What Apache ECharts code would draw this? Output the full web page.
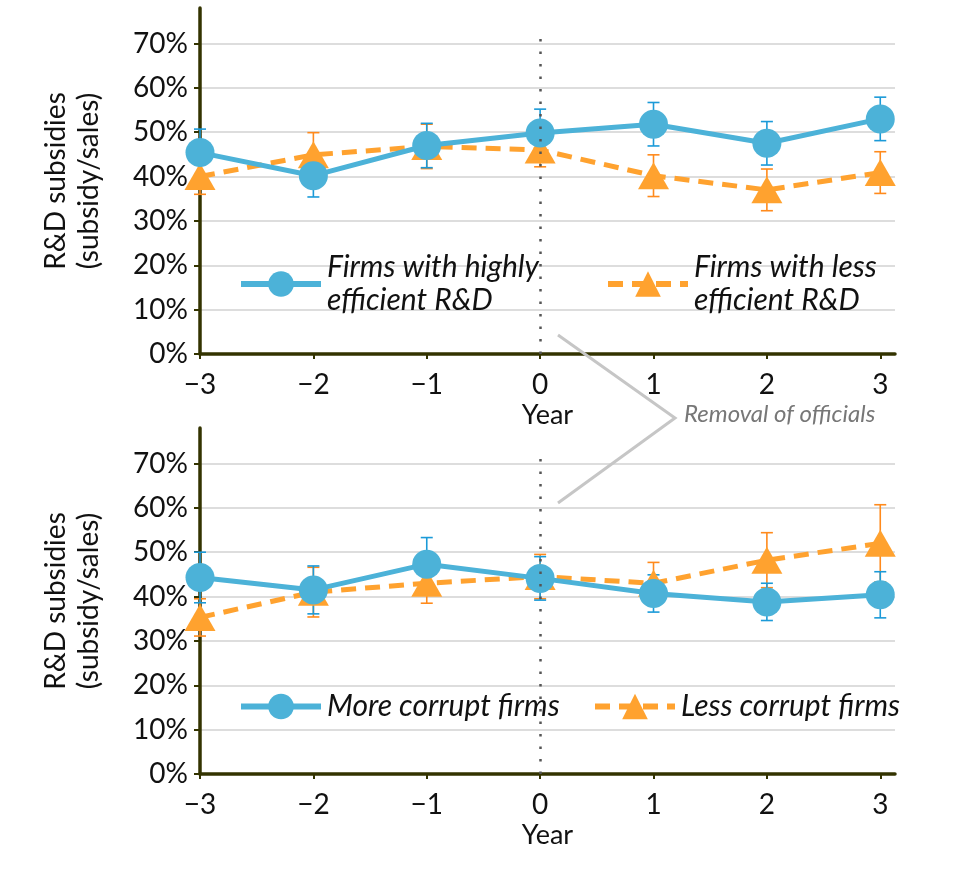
<!DOCTYPE html>
<html>
<head>
<meta charset="utf-8">
<script src="https://cdn.jsdelivr.net/npm/echarts@6/dist/echarts.min.js"></script>
<style>
  html, body { margin: 0; padding: 0; background: #fff; }
  #Chart { width: 960px; height: 885px; }
</style>
<title>R&D subsidies around removal of officials</title>
</head>
<body>
<div id="Chart"></div>
<script>
// x: years relative to removal, y: subsidy/sales in %
var years = [-3, -2, -1, 0, 1, 2, 3];
var yTicks = [0, 10, 20, 30, 40, 50, 60, 70];

// top panel
var highEff    = [45.4, 40.2, 47.0, 49.8, 51.8, 47.5, 53.0];
var highEffErr = [5.3, 4.8, 5.0, 5.4, 4.9, 4.9, 4.9];
var lowEff     = [40.0, 44.9, 46.8, 46.0, 40.2, 37.0, 40.9];
var lowEffErr  = [4.0, 5.0, 5.0, 3.8, 4.7, 4.7, 4.7];

// bottom panel
var moreCorrupt    = [44.3, 41.5, 47.3, 44.1, 40.7, 38.8, 40.4];
var moreCorruptErr = [5.7, 5.4, 6.0, 4.9, 4.2, 4.2, 5.2];
var lessCorrupt    = [35.3, 41.0, 43.0, 44.5, 43.0, 48.2, 52.0];
var lessCorruptErr = [4.2, 5.6, 4.5, 5.0, 4.7, 6.2, 8.7];

var names = [
  'Firms with highly\nefficient R&D', 'Firms with less\nefficient R&D',
  'More corrupt firms', 'Less corrupt firms'
];

var BLUE = '#4cb2d8', BLUE_ERR = '#1b9ad8';
var ORANGE = '#ffa22f', ORANGE_ERR = '#ff8a1c';
var AXIS = '#333300';
var FONT = 'Lato';

function xAxisFor(idx) {
  return {
    type: 'value', gridIndex: idx, min: -3, max: 3.13,
    name: 'Year', nameLocation: 'middle', nameGap: 48,
    nameTextStyle: { fontFamily: FONT, fontSize: 27, color: '#111' },
    axisLine: { onZero: false, lineStyle: { color: AXIS, width: 3.5 } },
    axisTick: { customValues: years, length: 5, lineStyle: { color: AXIS, width: 2 } },
    axisLabel: {
      customValues: years, fontFamily: FONT, fontSize: 28, color: '#111', margin: 17,
      formatter: function (v) { return v < 0 ? '\u2212' + Math.abs(v) : String(v); }
    },
    splitLine: { show: false }
  };
}

function yAxisFor(idx) {
  return {
    type: 'value', gridIndex: idx, min: 0, max: 78,
    name: 'R&D subsidies\n(subsidy/sales)', nameLocation: 'middle', nameGap: 95,
    nameTextStyle: { fontFamily: FONT, fontSize: 28, color: '#111', lineHeight: 33 },
    axisLine: { show: true, onZero: false, lineStyle: { color: AXIS, width: 3.5 } },
    axisTick: { customValues: yTicks, length: 6, lineStyle: { color: AXIS, width: 2 } },
    axisLabel: {
      customValues: yTicks, fontFamily: FONT, fontSize: 28, color: '#111', margin: 12,
      formatter: '{value}%'
    },
    splitLine: { show: true, lineStyle: { color: '#d2d2d2', width: 1.5 } }
  };
}

function lineSeries(name, vals, color, dashed, idx, z) {
  return {
    type: 'line', name: name, xAxisIndex: idx, yAxisIndex: idx, z: z,
    data: years.map(function (y, i) { return [y, vals[i]]; }),
    symbol: dashed ? 'triangle' : 'circle',
    symbolSize: dashed ? [31, 27] : 29,
    lineStyle: { color: color, width: 5, type: dashed ? [15, 9] : 'solid' },
    itemStyle: { color: color },
    animation: false
  };
}

function errSeries(vals, err, color, idx) {
  return {
    type: 'custom', xAxisIndex: idx, yAxisIndex: idx, z: 1, silent: true,
    data: years.map(function (y, i) { return [y, vals[i] - err[i], vals[i] + err[i]]; }),
    renderItem: function (params, api) {
      var lo = api.coord([api.value(0), api.value(1)]);
      var hi = api.coord([api.value(0), api.value(2)]);
      var w = 6;
      var st = { stroke: color, lineWidth: 1.6 };
      return {
        type: 'group', children: [
          { type: 'line', shape: { x1: lo[0], y1: lo[1], x2: hi[0], y2: hi[1] }, style: st },
          { type: 'line', shape: { x1: lo[0] - w, y1: lo[1], x2: lo[0] + w, y2: lo[1] }, style: st },
          { type: 'line', shape: { x1: hi[0] - w, y1: hi[1], x2: hi[0] + w, y2: hi[1] }, style: st }
        ]
      };
    },
    animation: false
  };
}

// dotted line at year 0
function zeroLine(idx) {
  return {
    type: 'line', xAxisIndex: idx, yAxisIndex: idx, z: 0, data: [], silent: true,
    markLine: {
      symbol: 'none', silent: true, label: { show: false }, animation: false,
      lineStyle: { color: '#555', width: 2.5, type: [2.5, 10] },
      data: [[{ coord: [0, 0] }, { coord: [0, 72] }]]
    }
  };
}

function legendFor(name, left, top) {
  return {
    data: [name], left: left, top: top, padding: 0,
    itemWidth: 80, itemHeight: 32, itemGap: 0,
    lineStyle: { width: 6 },
    textStyle: { fontFamily: FONT, fontStyle: 'italic', fontSize: 30, color: '#111', lineHeight: 33, padding: [0, 0, 0, 1] }
  };
}

var chart = echarts.init(document.getElementById('Chart'));
var option = {
  backgroundColor: '#fff',
  animation: false,
  grid: [
    { left: 200, right: 65, top: 8, height: 346 },
    { left: 200, right: 65, top: 428, height: 346 }
  ],
  xAxis: [xAxisFor(0), xAxisFor(1)],
  yAxis: [yAxisFor(0), yAxisFor(1)],
  legend: [
    legendFor(names[0], 238, 251),
    legendFor(names[1], 605, 251),
    legendFor(names[2], 238, 690),
    legendFor(names[3], 592, 690)
  ],
  series: [
    zeroLine(0),
    errSeries(lowEff, lowEffErr, ORANGE_ERR, 0),
    errSeries(highEff, highEffErr, BLUE_ERR, 0),
    lineSeries(names[1], lowEff, ORANGE, true, 0, 3),
    lineSeries(names[0], highEff, BLUE, false, 0, 4),
    zeroLine(1),
    errSeries(lessCorrupt, lessCorruptErr, ORANGE_ERR, 1),
    errSeries(moreCorrupt, moreCorruptErr, BLUE_ERR, 1),
    lineSeries(names[3], lessCorrupt, ORANGE, true, 1, 3),
    lineSeries(names[2], moreCorrupt, BLUE, false, 1, 4)
  ],
  graphic: [
    {
      type: 'polyline', silent: true, z: 10,
      shape: { points: [[558, 335], [675, 418], [558, 503]] },
      style: { stroke: '#c6c6c6', lineWidth: 3, fill: null }
    },
    {
      type: 'text', silent: true, z: 10, left: 684, top: 402,
      style: { text: 'Removal of officials', font: 'italic 24px Lato', fill: '#777' }
    }
  ]
};
chart.setOption(option);
</script>
</body>
</html>
